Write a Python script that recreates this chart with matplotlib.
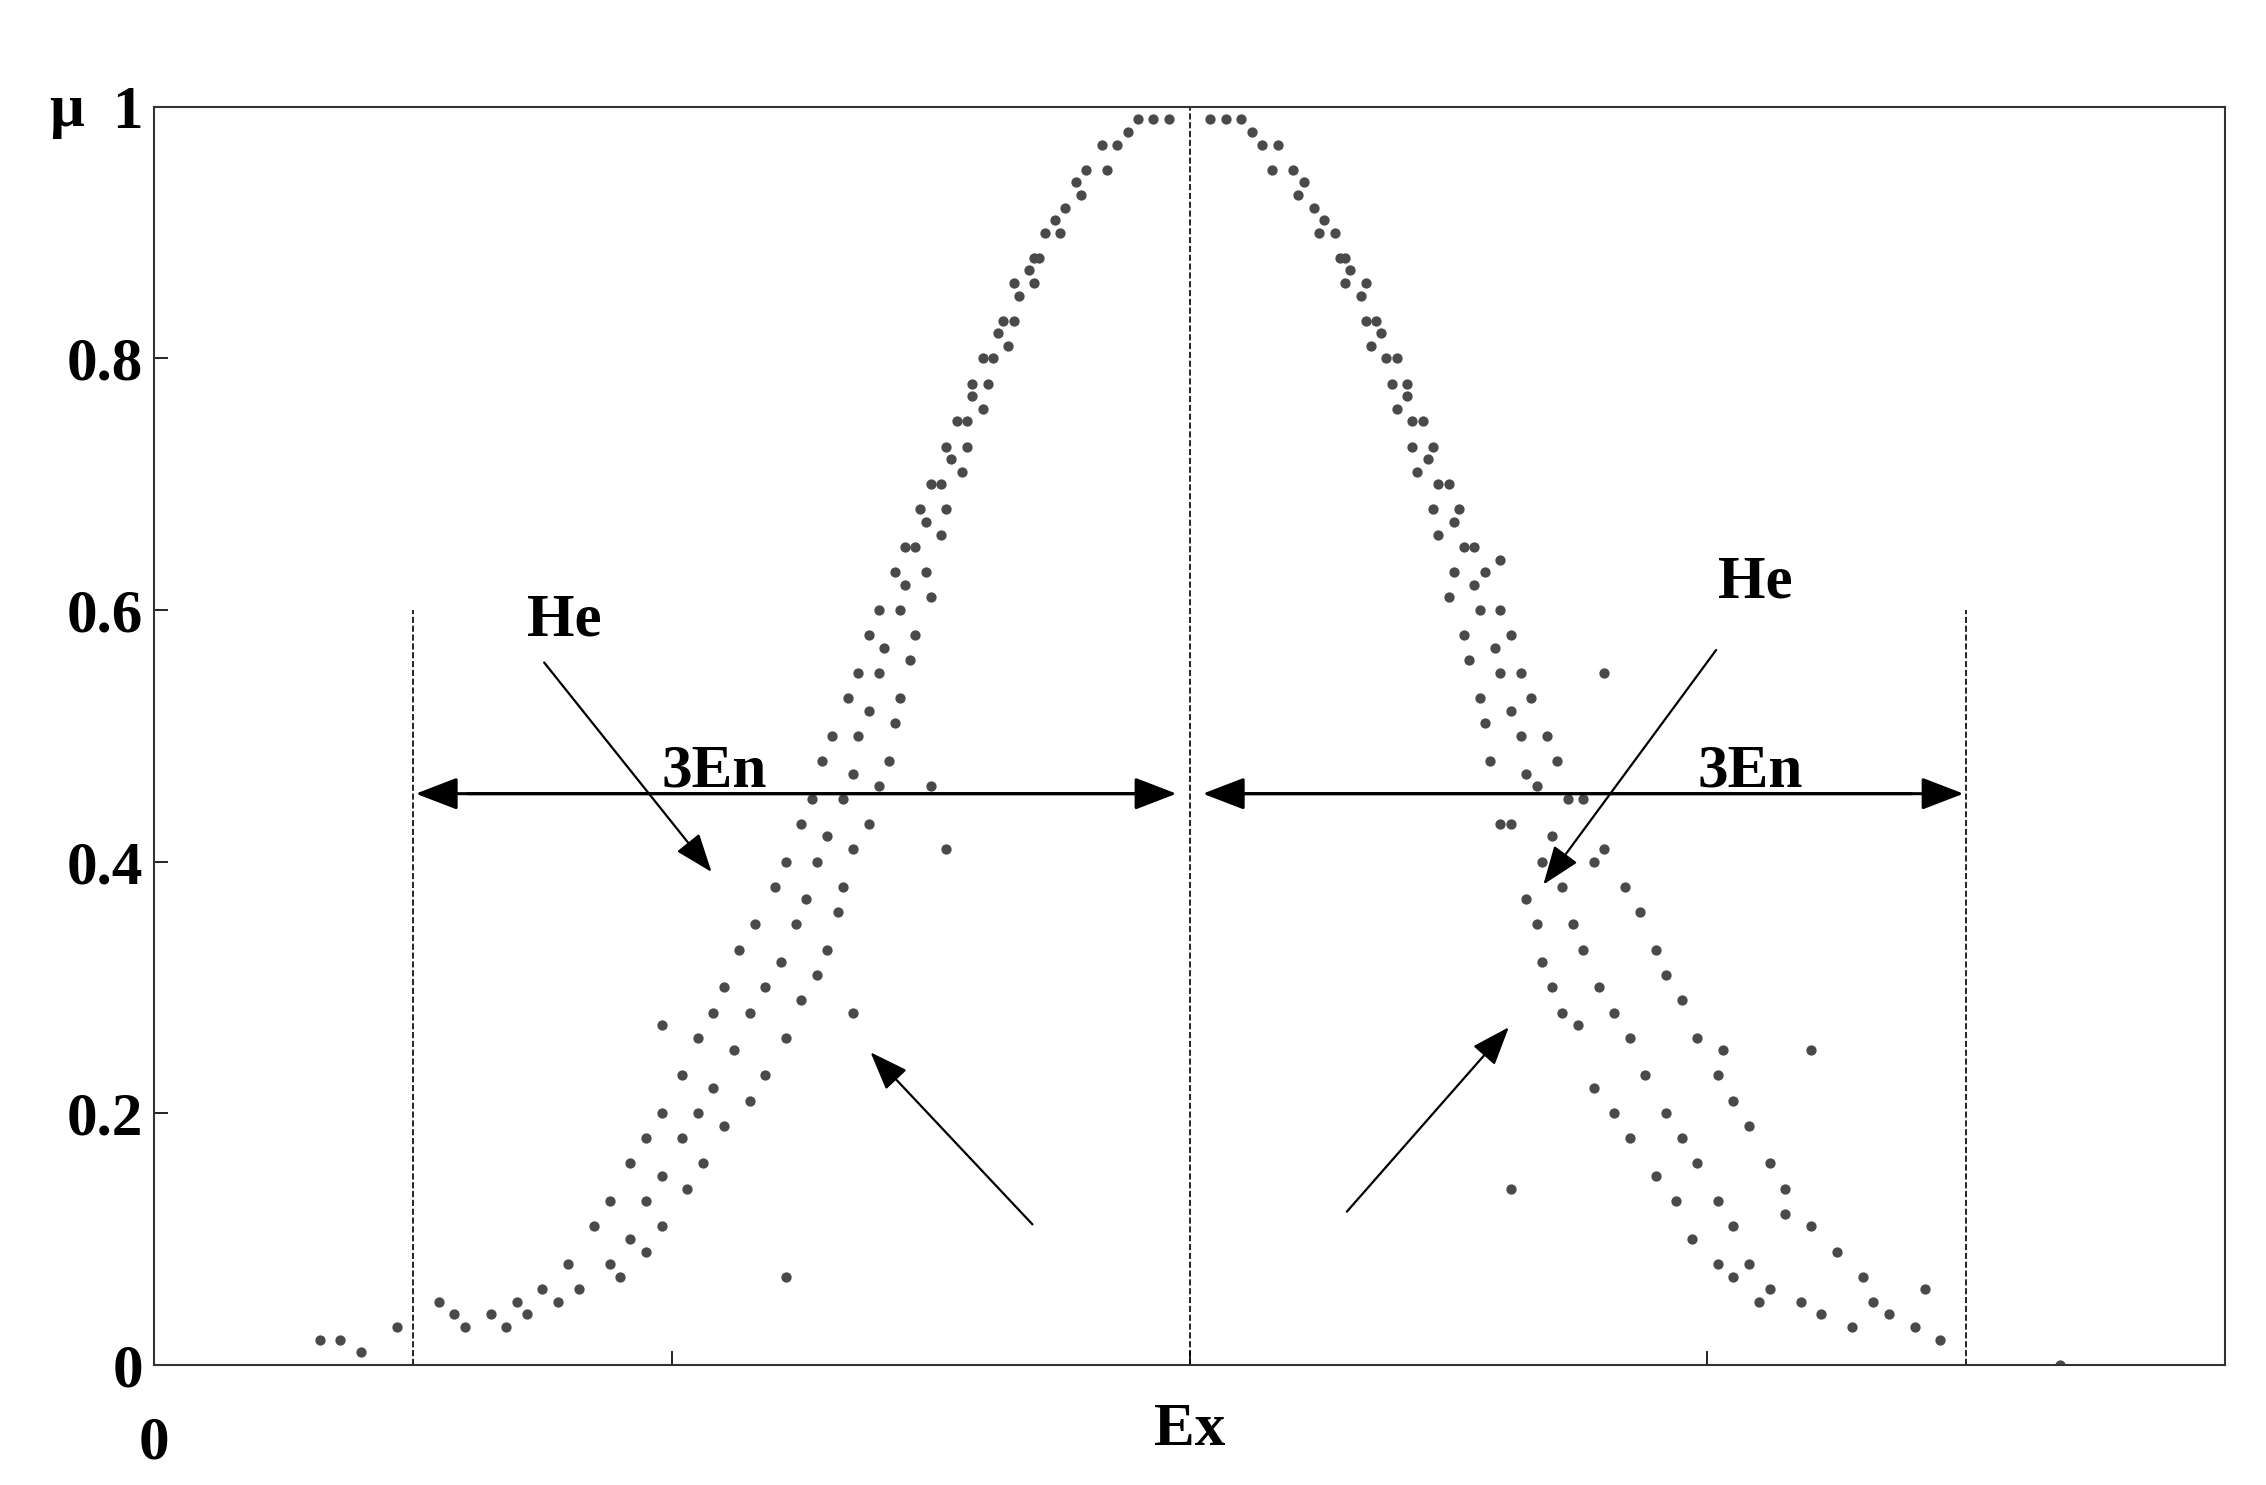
import matplotlib
matplotlib.use("Agg")
import matplotlib.pyplot as plt

# cloud drops (x in units of the axis, 0..4, Ex = 2)
left_x = [1.90, 1.93, 1.96, 1.88, 1.83, 1.86, 1.80, 1.84, 1.78, 1.76, 1.74, 1.79,
          1.72, 1.75, 1.70, 1.69, 1.66, 1.71, 1.67, 1.64, 1.70, 1.63, 1.60, 1.66,
          1.62, 1.58, 1.65, 1.58, 1.55, 1.61, 1.57, 1.53, 1.60, 1.54, 1.50, 1.57,
          1.52, 1.48, 1.56, 1.49, 1.45, 1.53, 1.47, 1.43, 1.52, 1.45, 1.40, 1.49,
          1.44, 1.38, 1.50, 1.41, 1.36, 1.47, 1.40, 1.34, 1.46, 1.38, 1.31, 1.44,
          1.36, 1.29, 1.43, 1.35, 1.27, 1.42, 1.50, 1.33, 1.25, 1.40, 1.30, 1.22,
          1.38, 1.53, 1.28, 1.20, 1.35, 1.26, 1.16, 1.33, 1.24, 1.13, 1.32, 1.21,
          1.10, 1.30, 1.18, 1.08, 1.28, 1.35, 1.15, 1.05, 1.25, 0.98, 1.12, 1.02,
          1.22, 1.08, 0.98, 1.18, 1.05, 0.95, 1.15, 1.02, 0.92, 1.10, 0.98, 0.88,
          1.06, 0.95, 0.85, 1.03, 0.92, 0.80, 0.98, 0.88, 0.75, 0.95, 1.22, 0.82,
          0.70, 0.90, 0.78, 0.65, 0.72, 0.60, 0.68, 0.55, 0.32, 0.36, 0.40, 0.58, 0.47]
left_y = [0.99, 0.99, 0.99, 0.98, 0.97, 0.97, 0.95, 0.95, 0.94, 0.92, 0.91, 0.93,
          0.90, 0.90, 0.88, 0.87, 0.86, 0.88, 0.85, 0.83, 0.86, 0.82, 0.80, 0.83,
          0.80, 0.78, 0.81, 0.77, 0.75, 0.78, 0.75, 0.73, 0.76, 0.72, 0.70, 0.73,
          0.70, 0.68, 0.71, 0.67, 0.65, 0.68, 0.65, 0.63, 0.66, 0.62, 0.60, 0.63,
          0.60, 0.58, 0.61, 0.57, 0.55, 0.58, 0.55, 0.53, 0.56, 0.52, 0.50, 0.53,
          0.50, 0.48, 0.51, 0.47, 0.45, 0.48, 0.46, 0.45, 0.43, 0.46, 0.42, 0.40,
          0.43, 0.41, 0.40, 0.38, 0.41, 0.37, 0.35, 0.38, 0.35, 0.33, 0.36, 0.32,
          0.30, 0.33, 0.30, 0.28, 0.31, 0.28, 0.28, 0.26, 0.29, 0.27, 0.25, 0.23,
          0.26, 0.22, 0.20, 0.23, 0.20, 0.18, 0.21, 0.18, 0.16, 0.19, 0.15, 0.13,
          0.16, 0.13, 0.11, 0.14, 0.10, 0.08, 0.11, 0.08, 0.06, 0.09, 0.07, 0.06,
          0.05, 0.07, 0.05, 0.04, 0.04, 0.03, 0.03, 0.05, 0.02, 0.02, 0.01, 0.04, 0.03]

right_x = [2.10, 2.07, 2.04, 2.12, 2.17, 2.14, 2.20, 2.16, 2.22, 2.24, 2.26, 2.21,
           2.28, 2.25, 2.30, 2.31, 2.34, 2.29, 2.33, 2.36, 2.30, 2.37, 2.40, 2.34,
           2.38, 2.42, 2.35, 2.42, 2.45, 2.39, 2.43, 2.47, 2.40, 2.46, 2.50, 2.43,
           2.48, 2.52, 2.44, 2.51, 2.55, 2.47, 2.53, 2.57, 2.48, 2.55, 2.60, 2.51,
           2.56, 2.62, 2.50, 2.59, 2.64, 2.53, 2.60, 2.66, 2.54, 2.62, 2.69, 2.56,
           2.64, 2.71, 2.57, 2.65, 2.73, 2.58, 2.67, 2.76, 2.60, 2.70, 2.78, 2.62,
           2.68, 2.72, 2.80, 2.65, 2.74, 2.84, 2.67, 2.76, 2.87, 2.68, 2.79, 2.90,
           2.70, 2.82, 2.92, 2.72, 2.60, 2.85, 2.95, 2.75, 3.03, 2.88, 2.98, 2.78,
           2.92, 3.02, 2.82, 2.95, 3.05, 2.85, 2.98, 3.08, 2.90, 3.02, 3.12, 2.94,
           3.05, 3.15, 2.97, 3.08, 3.20, 3.02, 3.12, 3.25, 3.05, 2.62, 3.18, 3.30,
           3.10, 3.22, 3.35, 3.28, 3.40, 3.32, 3.45, 3.68, 3.20, 3.15, 3.42, 2.80]
right_y = [0.99, 0.99, 0.99, 0.98, 0.97, 0.97, 0.95, 0.95, 0.94, 0.92, 0.91, 0.93,
           0.90, 0.90, 0.88, 0.87, 0.86, 0.88, 0.85, 0.83, 0.86, 0.82, 0.80, 0.83,
           0.80, 0.78, 0.81, 0.77, 0.75, 0.78, 0.75, 0.73, 0.76, 0.72, 0.70, 0.73,
           0.70, 0.68, 0.71, 0.67, 0.65, 0.68, 0.65, 0.63, 0.66, 0.62, 0.60, 0.63,
           0.60, 0.58, 0.61, 0.57, 0.55, 0.58, 0.55, 0.53, 0.56, 0.52, 0.50, 0.53,
           0.50, 0.48, 0.51, 0.47, 0.45, 0.48, 0.46, 0.45, 0.43, 0.42, 0.40, 0.43,
           0.40, 0.38, 0.41, 0.37, 0.35, 0.38, 0.35, 0.33, 0.36, 0.32, 0.30, 0.33,
           0.30, 0.28, 0.31, 0.28, 0.64, 0.26, 0.29, 0.27, 0.25, 0.23, 0.26, 0.22,
           0.20, 0.23, 0.20, 0.18, 0.21, 0.18, 0.16, 0.19, 0.15, 0.13, 0.16, 0.13,
           0.11, 0.14, 0.10, 0.08, 0.11, 0.08, 0.06, 0.09, 0.07, 0.14, 0.05, 0.07,
           0.05, 0.04, 0.04, 0.03, 0.03, 0.05, 0.02, 0.00, 0.25, 0.12, 0.06, 0.55]

ex, en = 2.0, 0.5
arrow_y = 0.454

plt.rcParams["font.family"] = ["Liberation Serif", "DejaVu Serif"]
plt.rcParams["font.weight"] = "bold"

fig = plt.figure(figsize=(22.66, 14.85), dpi=100)
ax = fig.add_axes([0.068, 0.081, 0.914, 0.847])
ax.scatter(left_x + right_x, left_y + right_y, s=55, color="#4a4a4a", lw=0)

ax.plot([ex, ex], [0, 1], ls="--", color="k", lw=1.2)
for xv in (ex - 3 * en, ex + 3 * en):
    ax.plot([xv, xv], [0, 0.6], ls="--", color="k", lw=1.2)

head = dict(arrowstyle="-|>,head_length=2.6,head_width=1.0", color="k", lw=2.2)
ax.annotate("", xy=(ex - 3 * en, arrow_y), xytext=(ex - 0.1, arrow_y), arrowprops=head)
ax.annotate("", xy=(ex - 0.02, arrow_y), xytext=(ex - 3 * en + 0.1, arrow_y), arrowprops=head)
ax.annotate("", xy=(ex + 3 * en, arrow_y), xytext=(ex + 0.1, arrow_y), arrowprops=head)
ax.annotate("", xy=(ex + 0.02, arrow_y), xytext=(ex + 3 * en - 0.1, arrow_y), arrowprops=head)

thin = dict(arrowstyle="-|>,head_length=2.4,head_width=0.9", color="k", lw=1.6)
ax.annotate("", xy=(1.08, 0.39), xytext=(0.75, 0.56), arrowprops=thin)
ax.annotate("", xy=(2.68, 0.38), xytext=(3.02, 0.57), arrowprops=thin)
ax.annotate("", xy=(1.38, 0.25), xytext=(1.70, 0.11), arrowprops=thin)
ax.annotate("", xy=(2.62, 0.27), xytext=(2.30, 0.12), arrowprops=thin)

fs = 44
ax.text(0.72, 0.58, "He", fontsize=fs, fontweight="bold")
ax.text(3.02, 0.61, "He", fontsize=fs, fontweight="bold")
ax.text(0.98, 0.46, "3En", fontsize=fs, fontweight="bold")
ax.text(2.98, 0.46, "3En", fontsize=fs, fontweight="bold")
ax.text(-0.17, 0.985, "μ", fontsize=fs, fontweight="bold", ha="center")

ax.set_xlim(0, 4)
ax.set_ylim(0, 1)
ax.set_xticks([1, 2, 3])
ax.set_xticklabels(["", "", ""])
ax.text(0, -0.04, "0", fontsize=fs, fontweight="bold", ha="center", va="top")
ax.text(ex, -0.03, "Ex", fontsize=fs, fontweight="bold", ha="center", va="top")
ax.set_yticks([0, 0.2, 0.4, 0.6, 0.8, 1])
ax.set_yticklabels(["0", "0.2", "0.4", "0.6", "0.8", "1"], fontsize=fs, fontweight="bold")
ax.tick_params(direction="in", length=10, width=1.2, pad=8)
for s in ax.spines.values():
    s.set_linewidth(1.5)
    s.set_color("#333333")

fig.savefig("out.png", dpi=100)
